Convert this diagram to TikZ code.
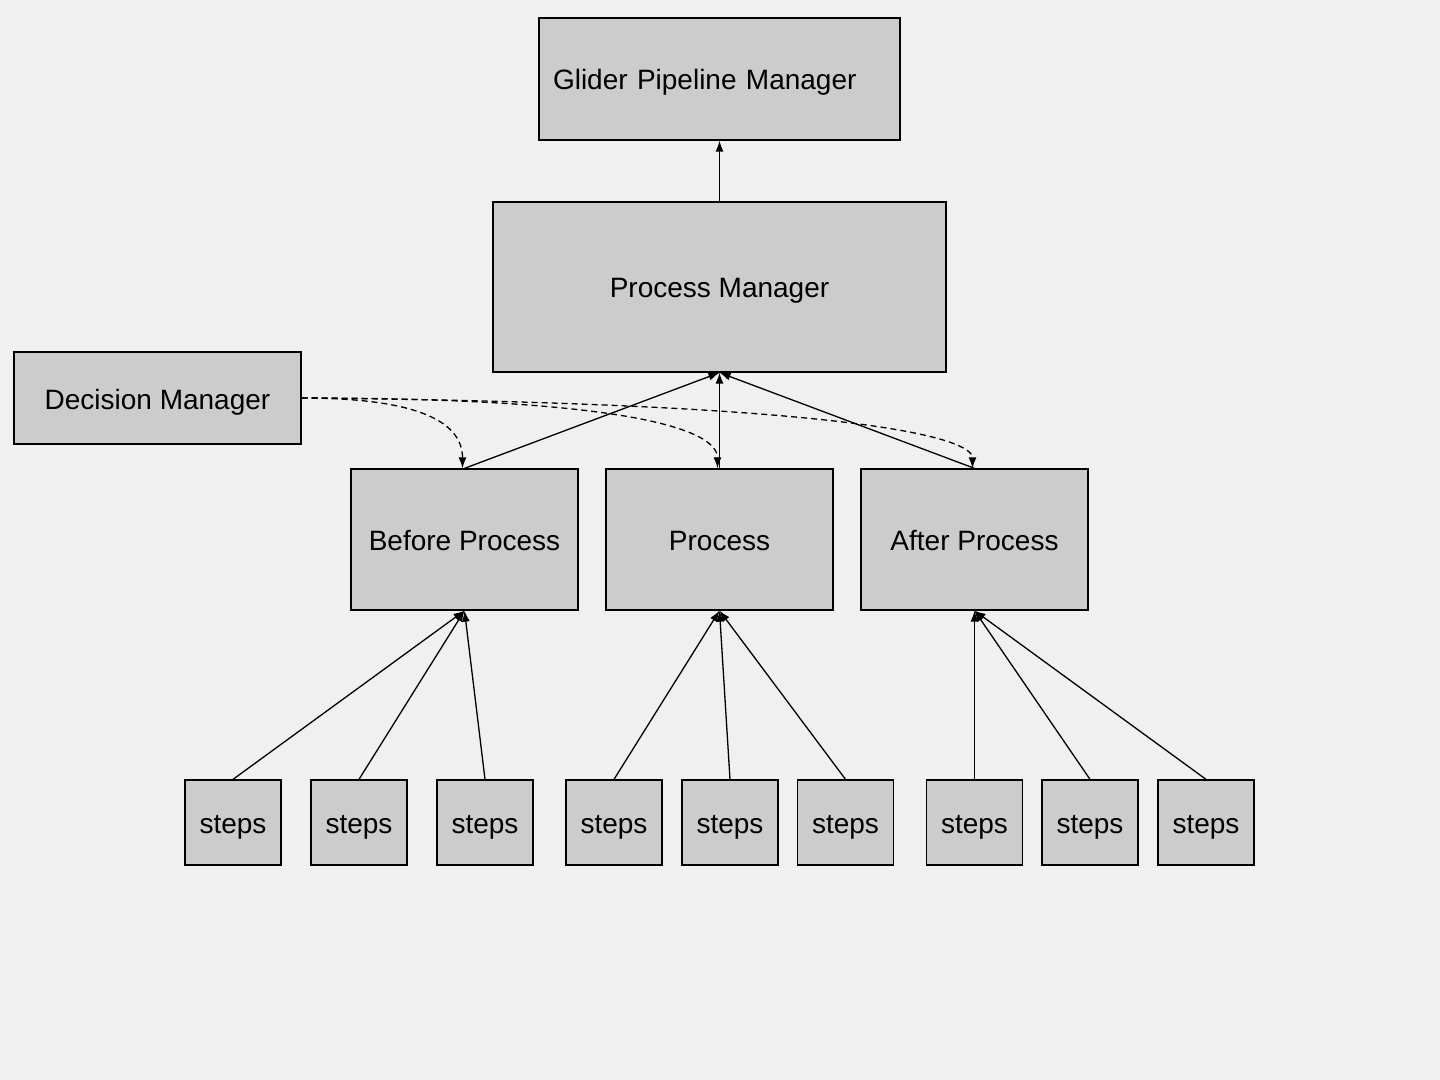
\documentclass[tikz,border=0pt]{standalone}
\usepackage{fontspec}
\setmainfont{Liberation Sans}
\usetikzlibrary{arrows.meta}
\definecolor{bggray}{HTML}{F0F0F0}
\definecolor{boxgray}{HTML}{CCCCCC}

\begin{document}
\begin{tikzpicture}[x=0.5pt,y=-0.5pt,
    box/.style={draw,fill=boxgray,line width=0.65pt,inner sep=0pt,text height=11pt,text depth=0pt,font=\fontsize{14}{17}\selectfont},
    stepbox/.style={box,minimum width=48pt,minimum height=42.5pt},
    phasebox/.style={box,minimum width=113.5pt,minimum height=70.5pt},
    link/.style={-{Latex[length=5.5pt,width=4pt]},line width=0.65pt},
    hint/.style={link,dashed,dash pattern=on 3pt off 2pt}]
    % Background
    \fill[bggray] (0,0) rectangle (1440,1080);
    \useasboundingbox (0,0) rectangle (1440,1080);

    % Managers
    \node[box,text width=166.5pt,inner xsep=7pt,minimum height=61pt,align=left] (glider) at (719.5,79) {Glider Pipeline Manager};
    \node[box,minimum width=226.5pt,minimum height=85pt] (pm) at (719.5,287) {Process Manager};
    \node[box,minimum width=143.5pt,minimum height=46pt] (dm) at (157.5,398) {Decision Manager};

    % Phases
    \node[phasebox] (before) at (464.5,539.5) {Before Process};
    \node[phasebox] (proc) at (719.5,539.5) {Process};
    \node[phasebox] (after) at (974.5,539.5) {After Process};

    % Steps
    \foreach \i/\x in {1/233,2/359,3/485,4/614,5/730,6/845.5,7/974.5,8/1090,9/1206}
        \node[stepbox] (s\i) at (\x,822.5) {steps};

    % Step links
    \foreach \i/\p in {1/before,2/before,3/before,4/proc,5/proc,6/proc,7/after,8/after,9/after}
        \draw[link] (s\i.north) -- (\p.south);

    % Phase links
    \draw[link] (before.north) -- (pm.south);
    \draw[link] (proc.north) -- (pm.south);
    \draw[link] (after.north) -- (pm.south);
    \draw[link] (pm.north) -- (glider.south);

    % Decisions
    \draw[hint] (dm.east) .. controls +(120,0) and +(0,-45) .. ([xshift=-1pt]before.north);
    \draw[hint] (dm.east) .. controls +(320,0) and +(0,-40) .. ([xshift=-1pt]proc.north);
    \draw[hint] (dm.east) .. controls +(560,5) and +(0,-30) .. ([xshift=-1pt]after.north);
\end{tikzpicture}
\end{document}
